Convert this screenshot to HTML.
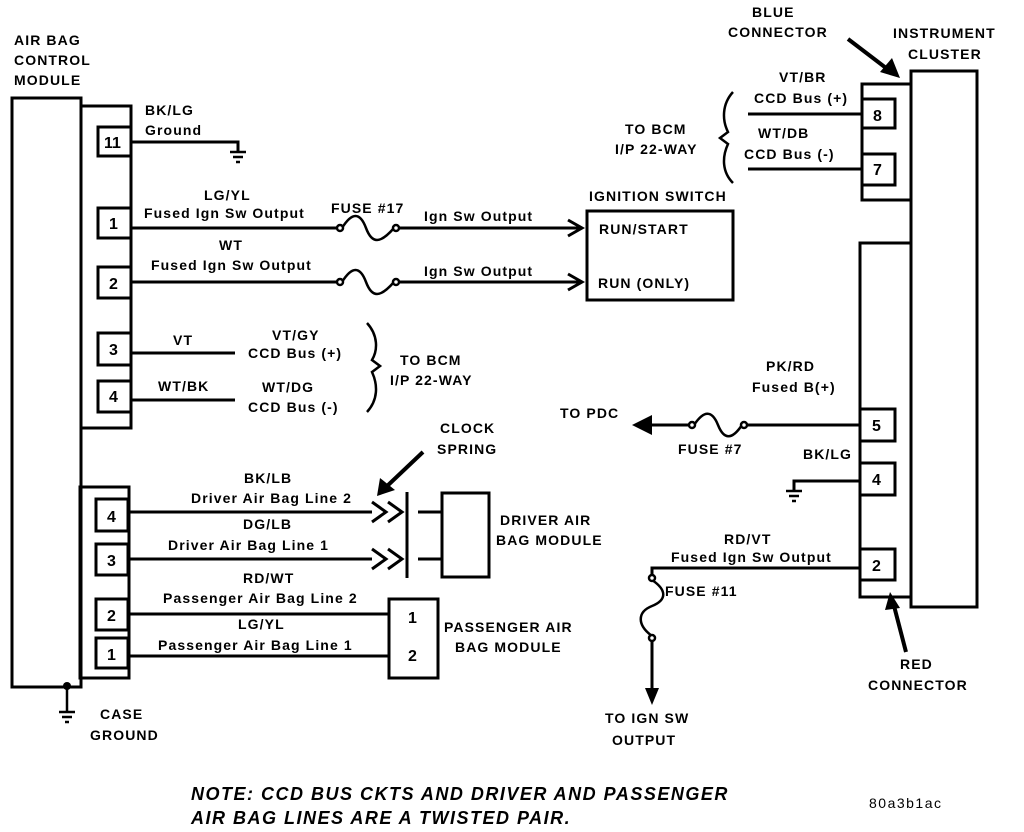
<!DOCTYPE html>
<html><head><meta charset="utf-8"><style>
html,body{margin:0;padding:0;background:#fff;}
svg{display:block;}
text{font-family:"Liberation Sans",Arial,sans-serif;font-weight:bold;font-size:14px;letter-spacing:1.1px;fill:#000;}
.pin{font-size:16px;letter-spacing:0;}
.note{font-size:18px;font-style:italic;letter-spacing:1.5px;}
</style></head><body>
<svg width="1024" height="832" viewBox="0 0 1024 832" xmlns="http://www.w3.org/2000/svg">
<g fill="none" stroke="#000" stroke-width="3">
<rect x="12" y="98" width="69" height="589"/>
<rect x="81" y="106" width="50" height="322"/>
<rect x="98" y="127" width="33" height="29"/>
<rect x="98" y="208" width="33" height="30"/>
<rect x="98" y="267" width="33" height="31"/>
<rect x="98" y="333" width="33" height="32"/>
<rect x="98" y="381" width="33" height="31"/>
<rect x="80" y="487" width="49" height="191"/>
<rect x="96" y="499" width="32" height="32"/>
<rect x="96" y="544" width="32" height="31"/>
<rect x="96" y="599" width="32" height="31"/>
<rect x="96" y="638" width="32" height="30"/>
<polyline points="131,142 238,142 238,152"/>
<line x1="131" y1="228" x2="338" y2="228"/>
<line x1="398" y1="228" x2="582" y2="228"/>
<line x1="131" y1="282" x2="338" y2="282"/>
<line x1="398" y1="282" x2="582" y2="282"/>
<line x1="131" y1="353" x2="235" y2="353"/>
<line x1="131" y1="400" x2="235" y2="400"/>
<line x1="129" y1="512" x2="372" y2="512"/>
<line x1="129" y1="559" x2="372" y2="559"/>
<line x1="129" y1="614" x2="389" y2="614"/>
<line x1="129" y1="656" x2="389" y2="656"/>
<polyline points="372,502 386,512 372,522"/><polyline points="388,502 402,512 388,522"/>
<polyline points="372,549 386,559 372,569"/><polyline points="388,549 402,559 388,569"/>
<line x1="407" y1="492" x2="407" y2="578"/>
<line x1="418" y1="512" x2="442" y2="512"/><line x1="418" y1="559" x2="442" y2="559"/>
<rect x="442" y="493" width="47" height="84"/>
<rect x="389" y="599" width="49" height="79"/>
<polyline points="568,220 582,228 568,236"/><polyline points="568,274 582,282 568,290"/>
<rect x="587" y="211" width="146" height="89"/>
<rect x="911" y="71" width="66" height="536"/>
<rect x="862" y="84" width="49" height="116"/>
<rect x="862" y="99" width="33" height="29"/>
<rect x="862" y="154" width="33" height="31"/>
<line x1="748" y1="114" x2="862" y2="114"/>
<line x1="748" y1="169" x2="862" y2="169"/>
<rect x="860" y="243" width="51" height="354"/>
<rect x="860" y="409" width="35" height="32"/>
<rect x="860" y="463" width="35" height="32"/>
<rect x="860" y="549" width="35" height="31"/>
<line x1="748" y1="425" x2="860" y2="425"/>
<line x1="650" y1="425" x2="690" y2="425"/>
<polyline points="794,491 794,481 860,481"/>
<polyline points="652,577 652,568 860,568"/>
<line x1="652" y1="640" x2="652" y2="690"/>
</g>
<g fill="none" stroke="#000" stroke-width="2.5">
<path d="M342,228 C352,212 360,212 366,228 C372,244 380,244 394,228"/>
<path d="M342,282 C352,266 360,266 366,282 C372,298 380,298 394,282"/>
<path d="M694,425 C704,410 712,410 718,425 C724,440 732,440 742,425"/>
<path d="M652,580 C667,590 667,600 652,606 C637,612 637,625 652,636"/>
<circle cx="340" cy="228" r="3" fill="#fff"/><circle cx="396" cy="228" r="3" fill="#fff"/>
<circle cx="340" cy="282" r="3" fill="#fff"/><circle cx="396" cy="282" r="3" fill="#fff"/>
<circle cx="692" cy="425" r="3" fill="#fff"/><circle cx="744" cy="425" r="3" fill="#fff"/>
<circle cx="652" cy="578" r="3" fill="#fff"/><circle cx="652" cy="638" r="3" fill="#fff"/>
<path d="M367,323 C378,335 378,350 372,360 L380,366 L372,372 C378,385 378,400 367,412"/>
<path d="M733,92 C722,104 722,120 728,132 L720,138 L728,144 C722,157 722,172 733,183"/>
<line x1="67" y1="687" x2="67" y2="712"/>
</g>
<circle cx="67" cy="686" r="4" fill="#000"/>
<g stroke="#000" stroke-width="2.5">
<line x1="230" y1="152" x2="246" y2="152"/><line x1="233" y1="157" x2="243" y2="157"/><line x1="236" y1="162" x2="240" y2="162"/>
<line x1="786" y1="491" x2="802" y2="491"/><line x1="789" y1="496" x2="799" y2="496"/><line x1="792" y1="501" x2="796" y2="501"/>
<line x1="59" y1="712" x2="75" y2="712"/><line x1="62" y1="717" x2="72" y2="717"/><line x1="65" y1="722" x2="69" y2="722"/>
</g>
<g stroke="#000" stroke-width="4">
<line x1="423" y1="452" x2="385" y2="488"/>
<line x1="848" y1="39" x2="890" y2="71"/>
<line x1="906" y1="652" x2="893" y2="602"/>
</g>
<polygon points="377,496 380,478 395,490" fill="#000"/>
<polygon points="900,78 880,72 892,58" fill="#000"/>
<polygon points="890,592 900,608 885,610" fill="#000"/>
<polygon points="632,425 652,415 652,435" fill="#000"/>
<polygon points="652,705 645,688 659,688" fill="#000"/>
<text x="14" y="45">AIR BAG</text><text x="14" y="65">CONTROL</text><text x="14" y="85">MODULE</text>
<text class="pin" x="104" y="148">11</text>
<text class="pin" x="109" y="229">1</text><text class="pin" x="109" y="289">2</text>
<text class="pin" x="109" y="355">3</text><text class="pin" x="109" y="402">4</text>
<text class="pin" x="107" y="522">4</text><text class="pin" x="107" y="566">3</text>
<text class="pin" x="107" y="621">2</text><text class="pin" x="107" y="660">1</text>
<text class="pin" x="408" y="623">1</text><text class="pin" x="408" y="661">2</text>
<text class="pin" x="873" y="121">8</text><text class="pin" x="873" y="175">7</text>
<text class="pin" x="872" y="431">5</text><text class="pin" x="872" y="485">4</text>
<text class="pin" x="872" y="571">2</text>
<text x="145" y="115">BK/LG</text><text x="145" y="135">Ground</text>
<text x="204" y="200">LG/YL</text><text x="144" y="218">Fused Ign Sw Output</text>
<text x="219" y="250">WT</text><text x="151" y="270">Fused Ign Sw Output</text>
<text x="331" y="213">FUSE #17</text>
<text x="424" y="221">Ign Sw Output</text><text x="424" y="276">Ign Sw Output</text>
<text x="173" y="345">VT</text><text x="158" y="391">WT/BK</text>
<text x="272" y="340">VT/GY</text><text x="248" y="358">CCD Bus (+)</text>
<text x="262" y="392">WT/DG</text><text x="248" y="412">CCD Bus (-)</text>
<text x="400" y="365">TO BCM</text><text x="390" y="385">I/P 22-WAY</text>
<text x="589" y="201">IGNITION SWITCH</text>
<text x="599" y="234">RUN/START</text><text x="598" y="288">RUN (ONLY)</text>
<text x="440" y="433">CLOCK</text><text x="437" y="454">SPRING</text>
<text x="244" y="483">BK/LB</text><text x="191" y="503">Driver Air Bag Line 2</text>
<text x="243" y="529">DG/LB</text><text x="168" y="550">Driver Air Bag Line 1</text>
<text x="243" y="583">RD/WT</text><text x="163" y="603">Passenger Air Bag Line 2</text>
<text x="238" y="629">LG/YL</text><text x="158" y="650">Passenger Air Bag Line 1</text>
<text x="500" y="525">DRIVER AIR</text><text x="496" y="545">BAG MODULE</text>
<text x="444" y="632">PASSENGER AIR</text><text x="455" y="652">BAG MODULE</text>
<text x="100" y="719">CASE</text><text x="90" y="740">GROUND</text>
<text x="752" y="17">BLUE</text><text x="728" y="37">CONNECTOR</text>
<text x="893" y="38">INSTRUMENT</text><text x="908" y="59">CLUSTER</text>
<text x="779" y="82">VT/BR</text><text x="754" y="103">CCD Bus (+)</text>
<text x="758" y="138">WT/DB</text><text x="744" y="159">CCD Bus (-)</text>
<text x="625" y="134">TO BCM</text><text x="615" y="154">I/P 22-WAY</text>
<text x="766" y="371">PK/RD</text><text x="752" y="392">Fused B(+)</text>
<text x="560" y="418">TO PDC</text><text x="678" y="454">FUSE #7</text>
<text x="803" y="459">BK/LG</text>
<text x="724" y="544">RD/VT</text><text x="671" y="562">Fused Ign Sw Output</text>
<text x="665" y="596">FUSE #11</text>
<text x="605" y="723">TO IGN SW</text><text x="612" y="745">OUTPUT</text>
<text x="900" y="669">RED</text><text x="868" y="690">CONNECTOR</text>
<text class="note" x="191" y="800">NOTE: CCD BUS CKTS AND DRIVER AND PASSENGER</text>
<text class="note" x="191" y="824">AIR BAG LINES ARE A TWISTED PAIR.</text>
<text x="869" y="808" style="font-weight:normal;font-size:14px;letter-spacing:1.5px">80a3b1ac</text>
</svg>
</body></html>
